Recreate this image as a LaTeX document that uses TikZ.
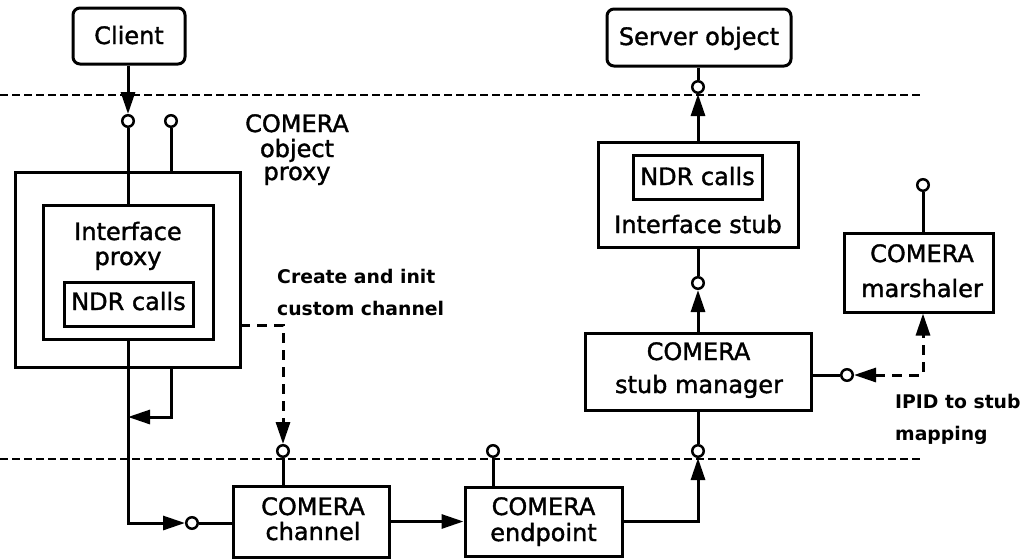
\documentclass[tikz,border=0pt]{standalone}
\usepackage{fontspec}
\setmainfont{DejaVu Sans}
\newfontfamily\boxfont[FakeBold=1.5]{DejaVu Sans}
\newfontfamily\labfont{DejaVu Sans Bold}
\usetikzlibrary{arrows.meta}
\begin{document}
\begin{tikzpicture}[x=1pt,y=-1pt,
  box/.style={draw, line width=3pt, fill=white, inner sep=0pt},
  rbox/.style={box, rounded corners=7pt},
  txt/.style={anchor=base, inner sep=0pt, font=\boxfont\fontsize{24pt}{28pt}\selectfont},
  lab/.style={anchor=base west, inner sep=0pt, font=\labfont\fontsize{18.8pt}{24pt}\selectfont},
  conn/.style={line width=3pt},
  dconn/.style={line width=3pt, dash pattern=on 10pt off 7pt},
  arr/.style={-{Triangle[length=22pt,width=14pt]}},
  port/.style={circle, draw, line width=2.5pt, fill=white, minimum size=11.5pt, inner sep=0pt},
  sep/.style={line width=1.5pt, dash pattern=on 8pt off 4pt}
]
\useasboundingbox[fill=white] (0,0) rectangle (1021,558);

% separator lines
\coordinate (s1a) at (0,95);   \coordinate (s1b) at (920,95);
\coordinate (s2a) at (0,459);  \coordinate (s2b) at (920,459);
\draw[sep] (s1a) -- (s1b);
\draw[sep] (s2a) -- (s2b);

% boxes
\node[rbox, minimum width=112pt, minimum height=56pt] (client) at (129,36) {};
\node[rbox, minimum width=184pt, minimum height=57pt] (server) at (699,37.5) {};
\node[box, minimum width=225pt, minimum height=195pt] (oproxy) at (127.5,269.5) {};
\node[box, minimum width=170pt, minimum height=134pt] (iproxy) at (128,272) {};
\node[box, minimum width=129pt, minimum height=44pt] (ndrA) at (128.5,304) {};
\node[box, minimum width=156pt, minimum height=71pt] (channel) at (311,521.5) {};
\node[box, minimum width=157pt, minimum height=69pt] (endpoint) at (543.5,521.5) {};
\node[box, minimum width=226pt, minimum height=77pt] (stubmgr) at (698,371.5) {};
\node[box, minimum width=200pt, minimum height=105pt] (istub) at (698,194.5) {};
\node[box, minimum width=129pt, minimum height=44pt] (ndrB) at (697.5,177) {};
\node[box, minimum width=149pt, minimum height=79pt] (marsh) at (918.5,272.5) {};

% texts
\node[txt] (tclient) at (129,44) {Client};
\node[txt] (tserver) at (699,45) {Server object};
\node[txt] (tcop1) at (297,132) {COMERA};
\node[txt] (tcop2) at (297,157) {object};
\node[txt] (tcop3) at (297,180) {proxy};
\node[txt] (tip1) at (128,240) {Interface};
\node[txt] (tip2) at (128,265) {proxy};
\node[txt] (tndrA) at (128.5,310) {NDR calls};
\node[txt] (tndrB) at (697.5,185) {NDR calls};
\node[txt] (tis) at (698,233) {Interface stub};
\node[txt] (tch1) at (313,515) {COMERA};
\node[txt] (tch2) at (313,540) {channel};
\node[txt] (tep1) at (543.5,515) {COMERA};
\node[txt] (tep2) at (543.5,541) {endpoint};
\node[txt] (tsm1) at (698.5,360) {COMERA};
\node[txt] (tsm2) at (699,393) {stub manager};
\node[txt] (tma1) at (922,262) {COMERA};
\node[txt] (tma2) at (922,297) {marshaler};
\node[lab] (lcr1) at (277,283) {Create and init};
\node[lab] (lcr2) at (277,315) {custom channel};
\node[lab] (lip1) at (895,408) {IPID to stub};
\node[lab] (lip2) at (895,440) {mapping};

% ports
\node[port] (c1) at (128,121) {};
\node[port] (c2) at (171,121) {};
\node[port] (c3) at (192,523) {};
\node[port] (c4) at (283,451) {};
\node[port] (c5) at (493,451) {};
\node[port] (c6) at (698,451) {};
\node[port] (c7) at (698,283) {};
\node[port] (c8) at (698,87) {};
\node[port] (c9) at (923,185) {};
\node[port] (c10) at (847,375) {};

\coordinate (j1) at (128,417);
\coordinate (d1) at (240,325);
\coordinate (d2) at (923,375);

% connectors
\draw[conn, arr] (client.south -| c1) -- (c1.north);
\draw[conn] (c1.south) -- (c1 |- iproxy.north);
\draw[conn] (c2.south) -- (c2 |- oproxy.north);
\draw[conn, arr] (iproxy.south) |- (c3.west);
\draw[conn] (c3.east) -- (c3 -| channel.west);
\draw[conn, arr] (oproxy.south -| c2) |- (j1);
\draw[dconn, arr] (d1) -| (c4.north);
\draw[conn] (c4.south) -- (c4 |- channel.north);
\draw[conn, arr] (channel.east) -- (endpoint.west);
\draw[conn] (c5.south) -- (c5 |- endpoint.north);
\draw[conn, arr] (endpoint.east) -| (c6.south);
\draw[conn] (c6.north) -- (c6 |- stubmgr.south);
\draw[conn, arr] (stubmgr.north) -- (c7.south);
\draw[conn] (c7.north) -- (c7 |- istub.south);
\draw[conn, arr] (istub.north) -- (c8.south);
\draw[conn] (c8.north) -- (c8 |- server.south);
\draw[conn] (c9.south) -- (c9 |- marsh.north);
\draw[conn] (c10 -| stubmgr.east) -- (c10.west);
\draw[dconn, {Triangle[length=22pt,width=14pt]}-{Triangle[length=22pt,width=14pt]}] (c10.east) -- (d2) -- (d2 |- marsh.south);
\end{tikzpicture}
\end{document}
